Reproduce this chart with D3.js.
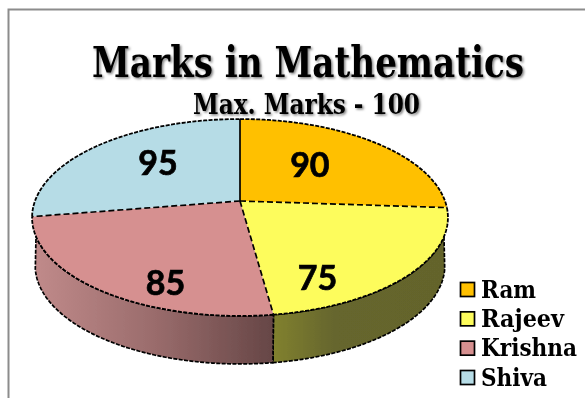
<!DOCTYPE html>
<html><head><meta charset="utf-8">
<script src="https://cdn.jsdelivr.net/npm/d3@7"></script>
<style>
html,body{margin:0;padding:0;background:#fff;overflow:hidden}
svg{display:block}
.serif{font-family:"DejaVu Serif",serif;font-stretch:condensed;font-weight:700;fill:#000}
.num{font-family:Lato,sans-serif;font-weight:700;fill:#000;font-size:34px;text-anchor:middle;stroke:#000;stroke-width:.7}
</style></head><body>
<svg id="c" width="585" height="398"></svg>
<script>
const categories = ["Ram","Rajeev","Krishna","Shiva"];
const values = [90,75,85,95];
const topColors = ["#ffc000","#fdfc5c","#d69090","#b6dce6"];
const wallStart = ["#000","#81812f","#c08a8a","#000"];
const wallMid = ["#000","#66662d","#9a6c6c","#000"];
const wallEnd = ["#000","#64642c","#664646","#000"];
const titleText = "Marks in Mathematics";
const subtitleText = "Max. Marks - 100";
const labelNudge = [[-1,-5],[-2,42],[-9,41],[-8,-9]];

const W=585,H=398, cx=240, cy=201, a=205, b=95.7, k=0.1675, depth=48, shrink=0.985, wallV=0.35, lowV=0.2;
const svg=d3.select("#c");
const defs=svg.append("defs");
const soft=defs.append("filter").attr("id","soft").attr("x","-5%").attr("y","-5%").attr("width","110%").attr("height","110%");
soft.append("feGaussianBlur").attr("stdDeviation",0.45);
const shadow=defs.append("filter").attr("id","tsh").attr("x","-5%").attr("y","-20%").attr("width","110%").attr("height","140%");
shadow.append("feGaussianBlur").attr("in","SourceGraphic").attr("stdDeviation",0.35).attr("result","t");
shadow.append("feDropShadow").attr("in","t").attr("dx",1.5).attr("dy",1.5).attr("stdDeviation",1.1).attr("flood-color","#000").attr("flood-opacity",0.5);

// frame
svg.append("path").attr("d",d3.line()([[8.5,H],[8.5,9.5],[W,9.5]])).attr("fill","none").attr("stroke","#8c8c8c").attr("stroke-width",2);

// perspective projection of the unit disc
const proj=(r,t)=>{const u=r*Math.sin(t),v=-r*Math.cos(t),d=1-k*v;return [cx+a*u/d,cy+b*v/d];};
const projLow=(r,t)=>{const p=proj(r,t);return [cx+(p[0]-cx)*shrink,p[1]+depth];};
const line=d3.line();
const sample=(t0,t1,f)=>d3.range(0,61).map(i=>f(1,t0+(t1-t0)*i/60));
const arcs=d3.pie().sort(null).value(d=>d)(values);
const wallT0=Math.PI-Math.acos(wallV), wallT1=Math.PI+Math.acos(wallV);
const lowT0=Math.PI-Math.acos(lowV), lowT1=Math.PI+Math.acos(lowV);

const pie=svg.append("g").attr("filter","url(#soft)");
const dash="4 1.4";
// walls
arcs.forEach((s,i)=>{
  const t0=Math.max(s.startAngle,wallT0), t1=Math.min(s.endAngle,wallT1);
  if(t1<=t0) return;
  const l0=Math.max(s.startAngle,lowT0), l1=Math.min(s.endAngle,lowT1);
  const topEdge=sample(t0,t1,proj), low=sample(l1,l0,projLow);
  const id="w"+i, xs=topEdge.concat(low).map(p=>p[0]);
  const g=defs.append("linearGradient").attr("id",id).attr("gradientUnits","userSpaceOnUse")
    .attr("x1",d3.min(xs)).attr("x2",d3.max(xs)).attr("y1",0).attr("y2",0);
  g.append("stop").attr("offset",0).attr("stop-color",wallStart[i]);
  g.append("stop").attr("offset",i==1?0.35:0.5).attr("stop-color",wallMid[i]);
  g.append("stop").attr("offset",1).attr("stop-color",wallEnd[i]);
  pie.append("path").attr("d",line(topEdge.concat(low))+"Z").attr("fill",`url(#${id})`)
    .attr("stroke","#000").attr("stroke-width",1.7).attr("stroke-dasharray",dash);
});
// top faces
arcs.forEach((s,i)=>{
  const c=proj(0,0), rim=sample(s.startAngle,s.endAngle,proj);
  pie.append("path").attr("d",line([c].concat(rim))+"Z").attr("fill",topColors[i]);
});
arcs.forEach((s,i)=>{
  const c=proj(0,0), rim=sample(s.startAngle,s.endAngle,proj);
  pie.append("path").attr("d",line(rim)).attr("fill","none").attr("stroke","#000").attr("stroke-width",1.8).attr("stroke-dasharray",dash);
  pie.append("path").attr("d",line([c,proj(1,s.startAngle)])).attr("fill","none").attr("stroke","#000")
    .attr("stroke-width",1.7).attr("stroke-dasharray",i==0?null:"6 3");
});
// value labels
const labels=svg.append("g").attr("filter","url(#soft)");
arcs.forEach((s,i)=>{
  const p=proj(0.5,(s.startAngle+s.endAngle)/2);
  labels.append("text").attr("class","num").attr("x",p[0]+labelNudge[i][0]).attr("y",p[1]+labelNudge[i][1]+12).text(values[i]);
});
// titles
const tg=svg.append("g").attr("filter","url(#tsh)");
tg.append("text").attr("class","serif").attr("x",92).attr("y",77).attr("font-size",43).attr("textLength",432).attr("lengthAdjust","spacingAndGlyphs").text(titleText);
tg.append("text").attr("class","serif").attr("x",193).attr("y",114).attr("font-size",27).attr("textLength",227).attr("lengthAdjust","spacingAndGlyphs").text(subtitleText);
// legend
const rowY=d3.scalePoint().domain(categories).range([289.5,377.5]);
const lw=[55,83,96,66];
const leg=svg.append("g").attr("filter","url(#soft)");
categories.forEach((c,i)=>{
  const y=rowY(c);
  leg.append("rect").attr("x",460.5).attr("y",y-7).attr("width",14).attr("height",14).attr("fill",topColors[i]).attr("stroke","#000").attr("stroke-width",1.7);
  leg.append("text").attr("class","serif").attr("x",481).attr("y",y+8).attr("font-size",25).attr("textLength",lw[i]).attr("lengthAdjust","spacingAndGlyphs").text(c);
});
</script>
</body></html>
